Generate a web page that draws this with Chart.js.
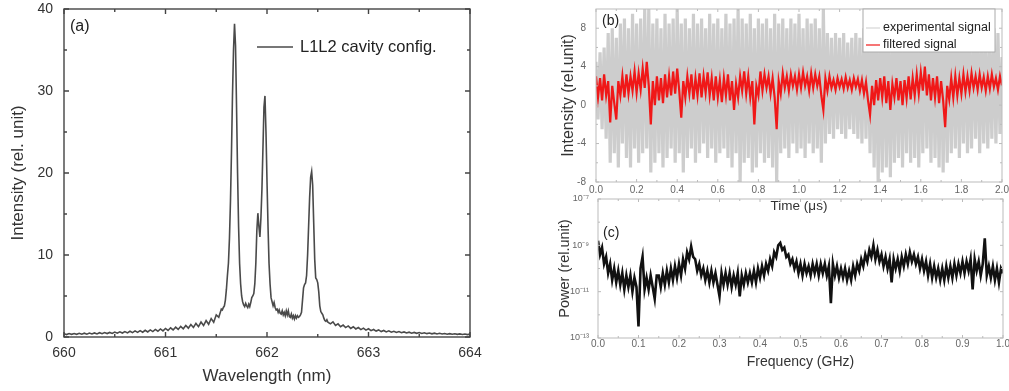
<!DOCTYPE html>
<html lang="en">
<head>
<meta charset="UTF-8">
<title>Laser spectrum, time signal and power spectrum</title>
<script src="https://cdn.jsdelivr.net/npm/chart.js"></script>
<style>
  body { margin: 0; background: #fff; width: 1009px; height: 391px; position: relative; overflow: hidden; }
  canvas { position: absolute; }
</style>
</head>
<body>
<canvas id="chartA" width="500" height="391" style="left:0;top:0"></canvas>
<canvas id="chartB" width="479" height="215" style="left:530px;top:0"></canvas>
<canvas id="chartC" width="479" height="203" style="left:530px;top:188px"></canvas>
<script>
/* (a) optical spectrum */
const wavelengthNm = [
  660.000,660.025,660.050,660.075,660.100,660.125,660.150,660.175,660.200,660.225,
  660.250,660.275,660.300,660.325,660.350,660.375,660.400,660.425,660.450,660.475,
  660.500,660.525,660.550,660.575,660.600,660.625,660.650,660.675,660.700,660.725,
  660.750,660.775,660.800,660.825,660.850,660.875,660.900,660.925,660.950,660.975,
  661.000,661.025,661.050,661.075,661.100,661.125,661.150,661.175,661.200,661.225,
  661.250,661.275,661.300,661.325,661.350,661.375,661.400,661.425,661.450,661.475,
  661.500,661.525,
  661.55,661.56,661.57,661.58,661.59,
  661.60,661.61,661.62,661.63,661.64,661.65,661.66,661.67,661.68,661.69,
  661.70,661.71,661.72,661.73,661.74,661.75,661.76,661.77,661.78,661.79,
  661.80,661.81,661.82,661.83,661.84,661.85,661.86,661.87,661.88,661.89,
  661.90,661.91,661.92,661.93,661.94,661.95,661.96,661.97,661.98,661.99,
  662.00,662.01,662.02,662.03,662.04,662.05,662.06,662.07,662.08,662.09,
  662.10,662.11,662.12,662.13,662.14,662.15,662.16,662.17,662.18,662.19,
  662.20,662.21,662.22,662.23,662.24,662.25,662.26,662.27,662.28,662.29,
  662.30,662.31,662.32,662.33,662.34,662.35,662.36,662.37,662.38,662.39,
  662.40,662.41,662.42,662.43,662.44,662.45,662.46,662.47,662.48,662.49,
  662.50,662.51,662.52,662.53,662.54,662.55,662.56,662.57,662.58,662.59,
  662.60,
  662.625,662.650,662.675,662.700,662.725,662.750,662.775,662.800,662.825,662.850,
  662.875,662.900,662.925,662.950,662.975,663.000,663.025,663.050,663.075,663.100,
  663.125,663.150,663.175,663.200,663.225,663.250,663.275,663.300,663.325,663.350,
  663.375,663.400,663.425,663.450,663.475,663.500,663.525,663.550,663.575,663.600,
  663.625,663.650,663.675,663.700,663.725,663.750,663.775,663.800,663.825,663.850,
  663.875,663.900,663.925,663.950,663.975,664.000
]
const intensityA = [
  0.40,0.30,0.42,0.32,0.43,0.33,0.45,0.34,0.46,0.35,
  0.48,0.37,0.50,0.38,0.52,0.40,0.54,0.42,0.56,0.44,
  0.60,0.46,0.63,0.48,0.66,0.50,0.70,0.53,0.74,0.56,
  0.78,0.58,0.82,0.62,0.86,0.66,0.92,0.70,0.98,0.74,
  1.04,0.80,1.12,0.86,1.20,0.92,1.30,1.00,1.40,1.08,
  1.52,1.16,1.66,1.26,1.82,1.40,2.00,1.55,2.25,1.80,
  2.70,2.40,
  3.4,3.3,3.6,3.8,4.5,
  5.8,7.5,9.0,12.0,16.5,22.5,29.5,35.0,38.2,35.5,
  28.0,20.0,13.5,9.0,6.5,5.0,4.3,3.9,3.7,4.1,
  3.8,3.6,4.0,3.7,4.2,4.8,5.0,5.3,6.5,9.0,
  13.0,15.1,13.5,12.2,14.5,18.0,23.0,28.0,29.4,25.0,
  19.0,13.5,9.0,6.5,4.8,4.3,3.8,4.2,3.6,3.3,
  3.4,3.0,3.3,2.9,2.8,3.2,2.7,3.0,2.6,3.2,
  2.7,3.2,2.5,2.4,2.8,2.3,2.6,2.2,2.6,2.3,
  2.6,2.4,2.5,2.7,3.0,4.5,6.0,6.4,6.6,7.5,
  10.0,13.5,17.0,19.5,20.2,18.5,14.0,9.5,7.2,7.0,
  6.6,5.5,3.8,3.1,2.9,2.7,2.3,2.0,1.9,2.1,
  1.8,
  1.60,1.85,1.40,1.60,1.25,1.45,1.15,1.35,1.05,1.25,
  0.98,1.15,0.90,1.08,0.84,1.00,0.78,0.92,0.72,0.86,
  0.66,0.80,0.62,0.75,0.58,0.70,0.55,0.66,0.52,0.62,
  0.49,0.59,0.47,0.56,0.45,0.54,0.43,0.51,0.41,0.49,
  0.39,0.47,0.37,0.45,0.36,0.43,0.34,0.41,0.33,0.40,
  0.32,0.38,0.30,0.37,0.29,0.35
]
const wavelengthTicks = [660, 661, 662, 663, 664]
const intensityTicks = [0, 10, 20, 30, 40]

/* (b) time signal */
const timeUs = [
  0.00,0.01,0.02,0.03,0.04,0.05,0.06,0.07,0.08,0.09,
  0.10,0.11,0.12,0.13,0.14,0.15,0.16,0.17,0.18,0.19,
  0.20,0.21,0.22,0.23,0.24,0.25,0.26,0.27,0.28,0.29,
  0.30,0.31,0.32,0.33,0.34,0.35,0.36,0.37,0.38,0.39,
  0.40,0.41,0.42,0.43,0.44,0.45,0.46,0.47,0.48,0.49,
  0.50,0.51,0.52,0.53,0.54,0.55,0.56,0.57,0.58,0.59,
  0.60,0.61,0.62,0.63,0.64,0.65,0.66,0.67,0.68,0.69,
  0.70,0.71,0.72,0.73,0.74,0.75,0.76,0.77,0.78,0.79,
  0.80,0.81,0.82,0.83,0.84,0.85,0.86,0.87,0.88,0.89,
  0.90,0.91,0.92,0.93,0.94,0.95,0.96,0.97,0.98,0.99,
  1.00,1.01,1.02,1.03,1.04,1.05,1.06,1.07,1.08,1.09,
  1.10,1.11,1.12,1.13,1.14,1.15,1.16,1.17,1.18,1.19,
  1.20,1.21,1.22,1.23,1.24,1.25,1.26,1.27,1.28,1.29,
  1.30,1.31,1.32,1.33,1.34,1.35,1.36,1.37,1.38,1.39,
  1.40,1.41,1.42,1.43,1.44,1.45,1.46,1.47,1.48,1.49,
  1.50,1.51,1.52,1.53,1.54,1.55,1.56,1.57,1.58,1.59,
  1.60,1.61,1.62,1.63,1.64,1.65,1.66,1.67,1.68,1.69,
  1.70,1.71,1.72,1.73,1.74,1.75,1.76,1.77,1.78,1.79,
  1.80,1.81,1.82,1.83,1.84,1.85,1.86,1.87,1.88,1.89,
  1.90,1.91,1.92,1.93,1.94,1.95,1.96,1.97,1.98,1.99,
  2.00
]
const experimentalSignal = [
  4.5,-1.5,5.5,-2.5,6.0,-3.5,7.5,-6.0,8.0,-5.0,
  7.0,-6.5,8.5,-4.0,9.0,-5.5,8.0,-6.5,9.5,-4.5,
  8.5,-6.0,9.0,-5.0,10.0,-4.5,10.0,-7.0,8.5,-6.0,
  9.0,-5.0,8.0,-6.5,9.5,-5.5,8.5,-4.5,9.0,-6.0,
  10.0,-5.0,8.5,-7.0,9.0,-5.5,8.0,-4.5,9.5,-6.0,
  8.5,-5.0,9.0,-4.0,8.0,-5.5,9.5,-4.5,8.5,-6.0,
  9.0,-5.0,8.0,-4.5,9.5,-5.5,8.5,-6.5,9.0,-5.0,
  10.0,-8.0,9.0,-6.0,8.5,-5.5,9.5,-7.0,8.0,-6.5,
  9.0,-5.0,8.5,-6.0,9.0,-5.5,8.0,-6.5,9.5,-8.0,
  8.5,-5.0,9.0,-4.5,8.0,-5.5,9.0,-4.0,8.5,-5.0,
  9.5,-4.5,8.0,-5.5,9.0,-4.0,8.5,-5.0,9.0,-4.5,
  8.0,-6.0,10.0,-4.0,7.5,-3.0,7.0,-3.5,7.5,-2.5,
  7.0,-3.0,7.5,-3.5,6.5,-2.5,7.0,-3.0,7.5,-3.5,
  7.0,-4.0,8.0,-3.5,7.5,-5.0,8.5,-6.5,9.0,-8.0,
  8.5,-7.0,9.5,-6.5,8.0,-7.5,9.0,-6.0,8.5,-5.5,
  9.0,-6.5,8.0,-5.0,9.5,-6.0,8.5,-5.5,9.0,-6.5,
  8.0,-5.0,9.5,-4.5,8.5,-6.0,9.0,-5.5,8.0,-6.5,
  9.0,-7.0,8.5,-6.0,9.0,-5.0,8.0,-4.5,8.5,-5.5,
  8.0,-4.0,9.0,-5.0,7.5,-4.5,8.0,-3.5,8.5,-5.0,
  7.5,-4.0,8.0,-4.5,7.0,-3.5,8.0,-4.0,7.5,-3.0,
  5.0
]
const filteredSignal = [
  3.0,0.8,2.8,0.5,3.2,1.0,2.5,-1.8,2.0,0.2,
  -1.5,2.5,1.0,3.0,0.8,3.2,1.2,3.0,1.5,3.5,
  1.3,3.3,1.6,3.8,1.8,4.5,2.0,-2.0,2.5,0.0,
  3.0,0.5,2.8,0.2,3.2,0.8,3.0,1.0,3.5,1.2,
  3.8,1.5,-1.3,2.5,0.8,3.0,1.2,3.2,0.6,2.8,
  1.0,3.3,0.8,3.0,1.3,3.4,1.0,2.8,0.5,3.0,
  0.8,2.6,0.3,2.8,1.0,3.2,0.5,2.5,-0.5,2.2,
  0.8,3.0,1.5,3.5,1.2,3.0,0.8,2.5,-2.0,2.0,
  1.0,3.5,1.5,3.2,1.8,3.0,1.2,2.8,0.8,-2.5,
  2.5,1.2,3.3,1.8,3.0,1.5,3.2,2.0,3.0,1.6,
  3.2,1.8,3.4,2.0,3.0,1.5,3.3,1.8,3.2,2.0,
  3.0,1.0,-0.5,2.8,1.5,3.0,1.8,2.6,1.6,2.8,
  1.9,2.7,1.7,2.9,1.8,2.6,1.6,2.8,1.9,2.7,
  1.5,2.6,1.2,2.4,0.5,-1.0,2.0,0.0,2.6,0.5,
  2.8,0.8,3.0,0.2,2.5,-0.5,2.2,0.8,2.8,0.5,
  2.5,0.0,2.6,0.7,3.0,0.6,2.8,1.0,3.2,1.2,
  3.4,1.5,4.0,1.0,3.2,0.5,2.8,0.8,3.0,0.2,
  2.5,0.5,-2.3,2.0,0.6,2.8,0.8,3.0,1.0,2.8,
  1.2,3.2,1.4,3.0,1.5,3.3,1.8,3.0,1.6,3.2,
  1.8,2.9,1.5,3.0,1.7,3.2,1.9,2.8,1.6,3.0,
  2.0
]
const timeTicks = [0, 0.2, 0.4, 0.6, 0.8, 1.0, 1.2, 1.4, 1.6, 1.8, 2.0]
const signalTicks = [-8, -4, 0, 4, 8]

/* (c) power spectrum, stored as log10 of the power */
const frequencyGHz = [
  0.000,0.005,0.010,0.015,0.020,0.025,0.030,0.035,0.040,0.045,
  0.050,0.055,0.060,0.065,0.070,0.075,0.080,0.085,0.090,0.095,
  0.100,0.105,0.110,0.115,0.120,0.125,0.130,0.135,0.140,0.145,
  0.150,0.155,0.160,0.165,0.170,0.175,0.180,0.185,0.190,0.195,
  0.200,0.205,0.210,0.215,0.220,0.225,0.230,0.235,0.240,0.245,
  0.250,0.255,0.260,0.265,0.270,0.275,0.280,0.285,0.290,0.295,
  0.300,0.305,0.310,0.315,0.320,0.325,0.330,0.335,0.340,0.345,
  0.350,0.355,0.360,0.365,0.370,0.375,0.380,0.385,0.390,0.395,
  0.400,0.405,0.410,0.415,0.420,0.425,0.430,0.435,0.440,0.445,
  0.450,0.455,0.460,0.465,0.470,0.475,0.480,0.485,0.490,0.495,
  0.500,0.505,0.510,0.515,0.520,0.525,0.530,0.535,0.540,0.545,
  0.550,0.555,0.560,0.565,0.570,0.575,0.580,0.585,0.590,0.595,
  0.600,0.605,0.610,0.615,0.620,0.625,0.630,0.635,0.640,0.645,
  0.650,0.655,0.660,0.665,0.670,0.675,0.680,0.685,0.690,0.695,
  0.700,0.705,0.710,0.715,0.720,0.725,0.730,0.735,0.740,0.745,
  0.750,0.755,0.760,0.765,0.770,0.775,0.780,0.785,0.790,0.795,
  0.800,0.805,0.810,0.815,0.820,0.825,0.830,0.835,0.840,0.845,
  0.850,0.855,0.860,0.865,0.870,0.875,0.880,0.885,0.890,0.895,
  0.900,0.905,0.910,0.915,0.920,0.925,0.930,0.935,0.940,0.945,
  0.950,0.955,0.960,0.965,0.970,0.975,0.980,0.985,0.990,0.995,
  1.000
]
const powerExponent = [
  -8.8,-9.4,-9.1,-9.8,-9.5,-10.2,-9.8,-10.5,-10.0,-10.6,
  -10.1,-10.7,-10.2,-10.9,-10.3,-10.8,-10.3,-11.0,-10.4,-10.8,
  -12.5,-10.0,-9.5,-10.9,-10.4,-10.9,-10.3,-10.8,-11.3,-10.3,
  -10.3,-10.8,-10.2,-10.7,-10.1,-10.6,-10.0,-10.5,-9.9,-10.4,
  -9.8,-10.3,-9.6,-10.0,-9.3,-9.6,-9.05,-9.5,-9.6,-10.1,
  -9.8,-10.3,-10.0,-10.5,-10.1,-10.6,-10.1,-10.6,-10.2,-10.7,
  -11.2,-10.2,-10.7,-10.2,-10.7,-10.2,-10.8,-10.3,-10.7,-10.2,
  -11.2,-10.3,-10.7,-10.2,-10.6,-10.2,-10.6,-10.1,-10.6,-10.0,
  -10.4,-9.9,-10.3,-9.8,-10.1,-9.6,-9.9,-9.3,-9.5,-9.0,
  -8.9,-9.2,-9.1,-9.5,-9.4,-9.8,-9.6,-10.0,-9.7,-10.2,
  -9.8,-10.3,-9.8,-10.2,-9.9,-10.3,-9.8,-10.2,-9.8,-10.3,
  -9.8,-10.2,-9.8,-10.3,-9.9,-11.5,-9.8,-10.3,-9.9,-10.4,
  -10.0,-10.4,-10.0,-10.5,-10.1,-10.5,-9.9,-10.3,-9.8,-10.1,
  -9.6,-9.9,-9.4,-9.7,-9.2,-9.5,-9.0,-9.6,-9.2,-9.7,
  -9.4,-9.9,-9.5,-10.0,-9.6,-10.6,-9.6,-10.0,-9.6,-10.1,
  -9.5,-9.9,-9.4,-9.8,-9.3,-9.7,-9.4,-9.8,-9.5,-10.0,
  -9.6,-10.1,-9.7,-10.3,-9.8,-10.4,-9.9,-10.4,-10.0,-10.5,
  -10.0,-10.5,-9.9,-10.4,-9.9,-10.4,-9.8,-10.3,-9.8,-10.2,
  -9.7,-10.2,-9.7,-10.1,-9.6,-10.9,-9.6,-10.1,-9.7,-10.3,
  -9.8,-8.7,-10.3,-9.9,-10.4,-9.9,-10.5,-10.0,-10.6,-10.0,
  -10.2
]
const frequencyTicks = [0, 0.1, 0.2, 0.3, 0.4, 0.5, 0.6, 0.7, 0.8, 0.9, 1.0]
const powerTicks = [1e-13, 1e-11, 1e-9, 1e-7]

Chart.defaults.font.family = "'Liberation Sans', Arial, sans-serif"
Chart.defaults.animation = false

const setTicks = list => scale => { scale.ticks = list.map(v => ({ value: v })) }
const pairs = (xs, ys) => xs.map((x, i) => ({ x: x, y: ys[i] }))

/* fixed axis boxes so the plot areas line up with the figure */
const fitX = h => s => { s.height = h; s.paddingLeft = 0; s.paddingRight = 0 }
const fitY = w => s => { s.width = w; s.paddingTop = 0; s.paddingBottom = 0 }

/* box round the plot with inward major and minor ticks, Origin style */
const framePlugin = {
  id: 'frame',
  afterDatasetsDraw(chart, args, opts) {
    const { ctx, chartArea: a, scales } = chart
    ctx.save()
    ctx.strokeStyle = opts.color
    ctx.lineWidth = opts.width
    ctx.strokeRect(a.left, a.top, a.right - a.left, a.bottom - a.top)
    const marks = (scale, horizontal) => {
      const px = scale.ticks.map(t => scale.getPixelForValue(t.value))
      const put = (p, len) => {
        if (horizontal) {
          ctx.moveTo(p, a.bottom); ctx.lineTo(p, a.bottom - len)
          ctx.moveTo(p, a.top); ctx.lineTo(p, a.top + len)
        } else {
          ctx.moveTo(a.left, p); ctx.lineTo(a.left + len, p)
          ctx.moveTo(a.right, p); ctx.lineTo(a.right - len, p)
        }
      }
      ctx.beginPath()
      px.forEach(p => put(p, opts.major))
      for (let i = 0; i < px.length - 1; i++) put((px[i] + px[i + 1]) / 2, opts.minor)
      ctx.stroke()
    }
    marks(scales.x, true)
    marks(scales.y, false)
    ctx.restore()
  }
}

/* panel letters and hand placed legends */
const notesPlugin = {
  id: 'notes',
  afterDraw(chart, args, opts) {
    const { ctx, chartArea: a } = chart
    ctx.save()
    ctx.textBaseline = 'middle'
    ctx.fillStyle = '#222'
    ctx.font = opts.letterFont
    ctx.fillText(opts.letter, a.left + opts.letterAt[0], a.top + opts.letterAt[1])
    if (opts.box) {
      const b = opts.box
      ctx.fillStyle = '#fff'
      ctx.fillRect(a.right - b.right - b.w, a.top + b.top, b.w, b.h)
      ctx.strokeStyle = '#aaa'
      ctx.lineWidth = 1
      ctx.strokeRect(a.right - b.right - b.w, a.top + b.top, b.w, b.h)
    }
    opts.entries.forEach(e => {
      const ds = chart.data.datasets[e.dataset]
      const x0 = e.fromRight ? a.right - e.x : a.left + e.x
      const y = a.top + e.y
      ctx.strokeStyle = ds.borderColor
      ctx.lineWidth = e.lineWidth
      ctx.beginPath(); ctx.moveTo(x0, y); ctx.lineTo(x0 + e.len, y); ctx.stroke()
      ctx.fillStyle = '#222'
      ctx.font = e.font
      ctx.fillText(ds.label, x0 + e.len + e.gap, y)
    })
    ctx.restore()
  }
}

const hiddenGrid = { display: false, drawTicks: false }

/* (a) */
new Chart(document.getElementById('chartA'), {
  type: 'line',
  data: {
    datasets: [{
      label: 'L1L2 cavity config.',
      data: pairs(wavelengthNm, intensityA),
      borderColor: '#4a4a4a',
      borderWidth: 1.6,
      pointRadius: 0,
      tension: 0
    }]
  },
  options: {
    responsive: false,
    layout: { padding: { top: 9, right: 30, left: 0, bottom: 0 } },
    plugins: {
      legend: { display: false },
      tooltip: { enabled: false },
      frame: { color: '#444', width: 1.4, major: 5, minor: 3 },
      notes: {
        letter: '(a)', letterFont: '16px "Liberation Sans", Arial, sans-serif', letterAt: [6, 18],
        entries: [{ dataset: 0, x: 193, y: 38, len: 36, gap: 7, lineWidth: 1.6,
                    font: '16.5px "Liberation Sans", Arial, sans-serif' }]
      }
    },
    scales: {
      x: {
        type: 'linear', min: 660, max: 664,
        afterBuildTicks: setTicks(wavelengthTicks),
        afterFit: fitX(54),
        grid: hiddenGrid, border: { display: false },
        ticks: { color: '#333', font: { size: 14 }, padding: 8, maxRotation: 0,
                 callback: v => String(v) },
        title: { display: true, text: 'Wavelength (nm)', color: '#333',
                 font: { size: 17 }, padding: { top: 0, bottom: 4 } }
      },
      y: {
        type: 'linear', min: 0, max: 40,
        afterBuildTicks: setTicks(intensityTicks),
        afterFit: fitY(64),
        grid: hiddenGrid, border: { display: false },
        ticks: { color: '#333', font: { size: 14 }, padding: 11 },
        title: { display: true, text: 'Intensity (rel. unit)', color: '#333',
                 font: { size: 17 }, padding: { top: 8, bottom: 0 } }
      }
    }
  },
  plugins: [framePlugin, notesPlugin]
})

/* (b) */
new Chart(document.getElementById('chartB'), {
  type: 'line',
  data: {
    datasets: [{
      label: 'experimental signal',
      data: pairs(timeUs, experimentalSignal),
      borderColor: '#cdcdcd',
      borderWidth: 3.2,
      pointRadius: 0,
      order: 2
    }, {
      label: 'filtered signal',
      data: pairs(timeUs, filteredSignal),
      borderColor: '#f01818',
      borderWidth: 2.2,
      pointRadius: 0,
      order: 1
    }]
  },
  options: {
    responsive: false,
    layout: { padding: { top: 9, right: 7, left: 0, bottom: 0 } },
    plugins: {
      legend: { display: false },
      tooltip: { enabled: false },
      frame: { color: '#bbb', width: 1, major: 3, minor: 2 },
      notes: {
        letter: '(b)', letterFont: '14px "Liberation Sans", Arial, sans-serif', letterAt: [6, 12],
        box: { right: 7, w: 132, top: 0, h: 43 },
        entries: [
          { dataset: 0, fromRight: true, x: 136, y: 19, len: 14, gap: 3, lineWidth: 1,
            font: '12.5px "Liberation Sans", Arial, sans-serif' },
          { dataset: 1, fromRight: true, x: 136, y: 36, len: 14, gap: 3, lineWidth: 1.2,
            font: '12.5px "Liberation Sans", Arial, sans-serif' }
        ]
      }
    },
    scales: {
      x: {
        type: 'linear', min: 0, max: 2,
        afterBuildTicks: setTicks(timeTicks),
        afterFit: fitX(33),
        grid: hiddenGrid, border: { display: false },
        ticks: { color: '#666', font: { size: 10 }, padding: 2, maxRotation: 0,
                 callback: v => v.toFixed(1) },
        title: { display: true, text: 'Time (μs)', color: '#333',
                 font: { size: 13.5 }, padding: { top: 0, bottom: 1 } }
      },
      y: {
        type: 'linear', min: -8, max: 10,
        afterBuildTicks: setTicks(signalTicks),
        afterFit: fitY(66),
        grid: hiddenGrid, border: { display: false },
        ticks: { color: '#666', font: { size: 10 }, padding: 10 },
        title: { display: true, text: 'Intensity (rel.unit)', color: '#333',
                 font: { size: 16 }, padding: { top: 29, bottom: 0 } }
      }
    }
  },
  plugins: [framePlugin, notesPlugin]
})

/* (c) */
const superDigits = { '-': '⁻', '0': '⁰', '1': '¹', '2': '²', '3': '³', '4': '⁴',
                      '5': '⁵', '6': '⁶', '7': '⁷', '8': '⁸', '9': '⁹' }
const powerLabel = v => '10' + String(Math.round(Math.log10(v))).split('').map(c => superDigits[c]).join('')

new Chart(document.getElementById('chartC'), {
  type: 'line',
  data: {
    datasets: [{
      label: 'power',
      data: pairs(frequencyGHz, powerExponent.map(e => Math.pow(10, e))),
      borderColor: '#111',
      borderWidth: 2.6,
      pointRadius: 0
    }]
  },
  options: {
    responsive: false,
    layout: { padding: { top: 11, right: 6, left: 0, bottom: 0 } },
    plugins: {
      legend: { display: false },
      tooltip: { enabled: false },
      frame: { color: '#bbb', width: 1, major: 3, minor: 2 },
      notes: {
        letter: '(c)', letterFont: '14px "Liberation Sans", Arial, sans-serif', letterAt: [5, 34],
        entries: []
      }
    },
    scales: {
      x: {
        type: 'linear', min: 0, max: 1,
        afterBuildTicks: setTicks(frequencyTicks),
        afterFit: fitX(53),
        grid: hiddenGrid, border: { display: false },
        ticks: { color: '#666', font: { size: 10 }, padding: 0, maxRotation: 0,
                 callback: v => v.toFixed(1) },
        title: { display: true, text: 'Frequency (GHz)', color: '#333',
                 font: { size: 14 }, padding: { top: 0, bottom: 20 } }
      },
      y: {
        type: 'logarithmic', min: 1e-13, max: 1e-7,
        afterBuildTicks: setTicks(powerTicks),
        afterFit: fitY(68),
        grid: hiddenGrid, border: { display: false },
        ticks: { color: '#666', font: { size: 9 }, padding: 9, callback: powerLabel },
        title: { display: true, text: 'Power (rel.unit)', color: '#333',
                 font: { size: 14.5 }, padding: { top: 26, bottom: 0 } }
      }
    }
  },
  plugins: [framePlugin, notesPlugin]
})
</script>
</body>
</html>
